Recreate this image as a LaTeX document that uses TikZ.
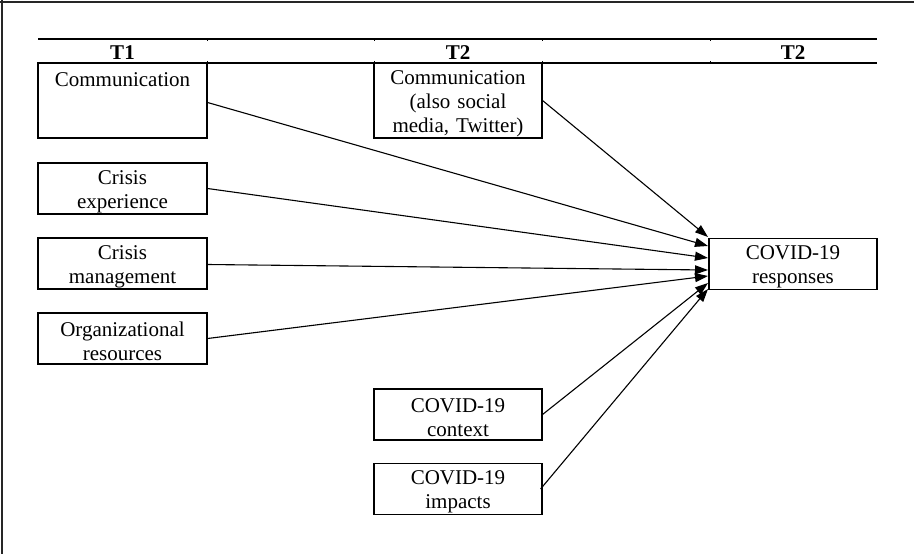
\documentclass[tikz,border=0pt]{standalone}
\usepackage{fontspec}
\setmainfont{Liberation Serif}
\usetikzlibrary{arrows.meta}
\begin{document}
\begin{tikzpicture}[x=1pt,y=-1pt,
  box/.style={draw, line width=1.1pt, minimum width=169pt, minimum height=51pt,
    text width=165pt, align=center, inner sep=0pt,
    font=\fontsize{21}{24}\selectfont,
    execute at begin node={\rule{0pt}{20pt}}},
  tallbox/.style={box, minimum height=75pt},
  head/.style={font=\fontsize{21}{24}\selectfont\bfseries, inner sep=0pt},
  rule/.style={line width=1.4pt},
  conn/.style={line width=1.1pt, -{Triangle[length=13pt,width=9pt]}}]
\useasboundingbox (0,0) rectangle (914,554);
% frame (top and left only)
\draw[line width=2pt, black!85] (0,2) -- (914,2);
\draw[line width=2pt, black!85] (2,0) -- (2,554);
% header rules
\draw[rule] (38,39) -- (877,39);
\draw[rule] (38,63) -- (877,63);
\foreach \xx in {207,374,542,710}{
  \draw[line width=0.8pt] (\xx,39) -- (\xx,41);
  \draw[line width=0.8pt] (\xx,61) -- (\xx,63);
}
\node[head] (h1) at (122.5,53) {T1};
\node[head] (h2) at (458,53) {T2};
\node[head] (h3) at (793,53) {T2};
% boxes
\node[tallbox] (commA) at (122.5,100.5) {Communication\\\mbox{}\\\mbox{}};
\node[box] (crisE) at (122.5,188.5) {Crisis\\experience};
\node[box] (crisM) at (122.5,263.5) {Crisis\\management};
\node[box] (org) at (122.5,338.5) {Organizational\\resources};
\node[tallbox, minimum width=168pt] (commB) at (458,100.5) {Communication\\(also social\\media, Twitter)};
\node[box, minimum width=168pt] (resp) at (793,264) {COVID-19\\responses};
\node[box, minimum width=168pt] (ctx) at (458,414.5) {COVID-19\\context};
\node[box, minimum width=168pt] (imp) at (458,489) {COVID-19\\impacts};
% arrow targets on the west side of responses
\coordinate (t1) at (708,237);
\coordinate (t2) at (708,246);
\coordinate (t3) at (708,258);
\coordinate (t4) at (708,270);
\coordinate (t5) at (708,276);
\coordinate (t6) at (708,283);
\coordinate (t7) at (708,289);
\draw[conn] (commB.east) -- (t1);
\draw[conn] ([yshift=-2pt]commA.east) -- (t2);
\draw[conn] (crisE.east) -- (t3);
\draw[conn] ([yshift=-1pt]crisM.east) -- (t4);
\draw[conn] (org.east) -- (t5);
\draw[conn] (ctx.east) -- (t6);
\draw[conn] ([xshift=-2pt]imp.east) -- (t7);
\end{tikzpicture}
\end{document}
